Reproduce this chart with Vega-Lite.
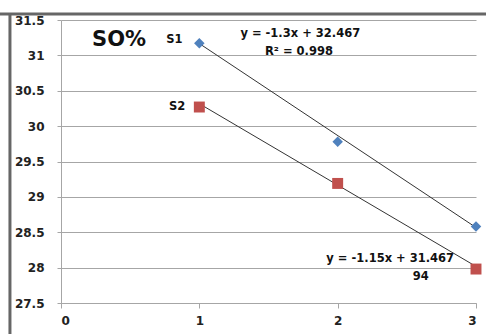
{
  "$schema": "https://vega.github.io/schema/vega-lite/v6.json",
  "width": 415,
  "height": 283,
  "autosize": {"type": "none"},
  "padding": {"left": 61, "top": 20, "right": 10, "bottom": 31},
  "background": "white",
  "config": {"view": {"stroke": null}},
  "datasets": {
    "points": [
      {"x": 1, "y": 31.17, "s": "S1"},
      {"x": 2, "y": 29.78, "s": "S1"},
      {"x": 3, "y": 28.58, "s": "S1"},
      {"x": 1, "y": 30.27, "s": "S2"},
      {"x": 2, "y": 29.19, "s": "S2"},
      {"x": 3, "y": 27.98, "s": "S2"}
    ],
    "trend": [
      {"x": 1, "y": 31.167, "s": "S1"},
      {"x": 3, "y": 28.567, "s": "S1"},
      {"x": 1, "y": 30.317, "s": "S2"},
      {"x": 3, "y": 28.017, "s": "S2"}
    ],
    "frame": [
      {"x": -0.45, "y": 31.585, "x2": 3.1, "y2": 31.585},
      {"x": -0.369, "y": 31.6, "x2": -0.369, "y2": 27.0}
    ],
    "labels": [
      {"x": 0.42, "y": 31.22, "t": "SO%", "k": "title"},
      {"x": 0.82, "y": 31.22, "t": "S1", "k": "s"},
      {"x": 0.84, "y": 30.27, "t": "S2", "k": "s"},
      {"x": 1.73, "y": 31.3, "t": "y = -1.3x + 32.467", "k": "eq"},
      {"x": 1.72, "y": 31.05, "t": "R² = 0.998", "k": "eq"},
      {"x": 2.38, "y": 28.12, "t": "y = -1.15x + 31.467", "k": "eq"},
      {"x": 2.6, "y": 27.87, "t": "94", "k": "eq"}
    ]
  },
  "encoding": {
    "x": {
      "field": "x", "type": "quantitative",
      "scale": {"domain": [0, 3], "nice": false, "zero": false},
      "axis": {
        "values": [0, 1, 2, 3], "title": null, "grid": false,
        "domainColor": "#a6a6a6", "tickColor": "#a6a6a6", "tickSize": 5,
        "labelFont": "DejaVu Sans", "labelFontWeight": "bold", "labelFontSize": 12,
        "labelColor": "#222222", "labelPadding": 7, "format": "d"
      }
    },
    "y": {
      "field": "y", "type": "quantitative",
      "scale": {"domain": [27.5, 31.5], "nice": false, "zero": false},
      "axis": {
        "values": [27.5, 28, 28.5, 29, 29.5, 30, 30.5, 31, 31.5], "title": null,
        "grid": true, "gridColor": "#a6a6a6", "gridWidth": 1,
        "domainColor": "#a6a6a6", "tickColor": "#a6a6a6", "tickSize": 4,
        "labelFont": "DejaVu Sans", "labelFontWeight": "bold", "labelFontSize": 12,
        "labelColor": "#222222", "labelPadding": 13, "format": "~r"
      }
    }
  },
  "layer": [
    {
      "data": {"name": "frame"},
      "mark": {"type": "rule", "color": "#666666", "strokeWidth": 3, "clip": false},
      "encoding": {"x2": {"field": "x2"}, "y2": {"field": "y2"}}
    },
    {
      "data": {"name": "trend"},
      "mark": {"type": "line", "color": "#333333", "strokeWidth": 1},
      "encoding": {"detail": {"field": "s"}}
    },
    {
      "data": {"name": "points"},
      "transform": [{"filter": "datum.s == 'S1'"}],
      "mark": {"type": "point", "shape": "diamond", "filled": true, "opacity": 1, "color": "#4f81bd", "size": 110}
    },
    {
      "data": {"name": "points"},
      "transform": [{"filter": "datum.s == 'S2'"}],
      "mark": {"type": "point", "shape": "square", "filled": true, "opacity": 1, "color": "#c0504d", "size": 120}
    },
    {
      "data": {"name": "labels"},
      "transform": [{"filter": "datum.k == 'title'"}],
      "mark": {"type": "text", "font": "DejaVu Sans", "fontWeight": "bold", "fontSize": 21, "color": "#111111", "align": "center", "baseline": "middle"},
      "encoding": {"text": {"field": "t"}}
    },
    {
      "data": {"name": "labels"},
      "transform": [{"filter": "datum.k != 'title'"}],
      "mark": {"type": "text", "font": "DejaVu Sans", "fontWeight": "bold", "fontSize": 11.5, "color": "#111111", "align": "center", "baseline": "middle"},
      "encoding": {"text": {"field": "t"}}
    }
  ]
}
